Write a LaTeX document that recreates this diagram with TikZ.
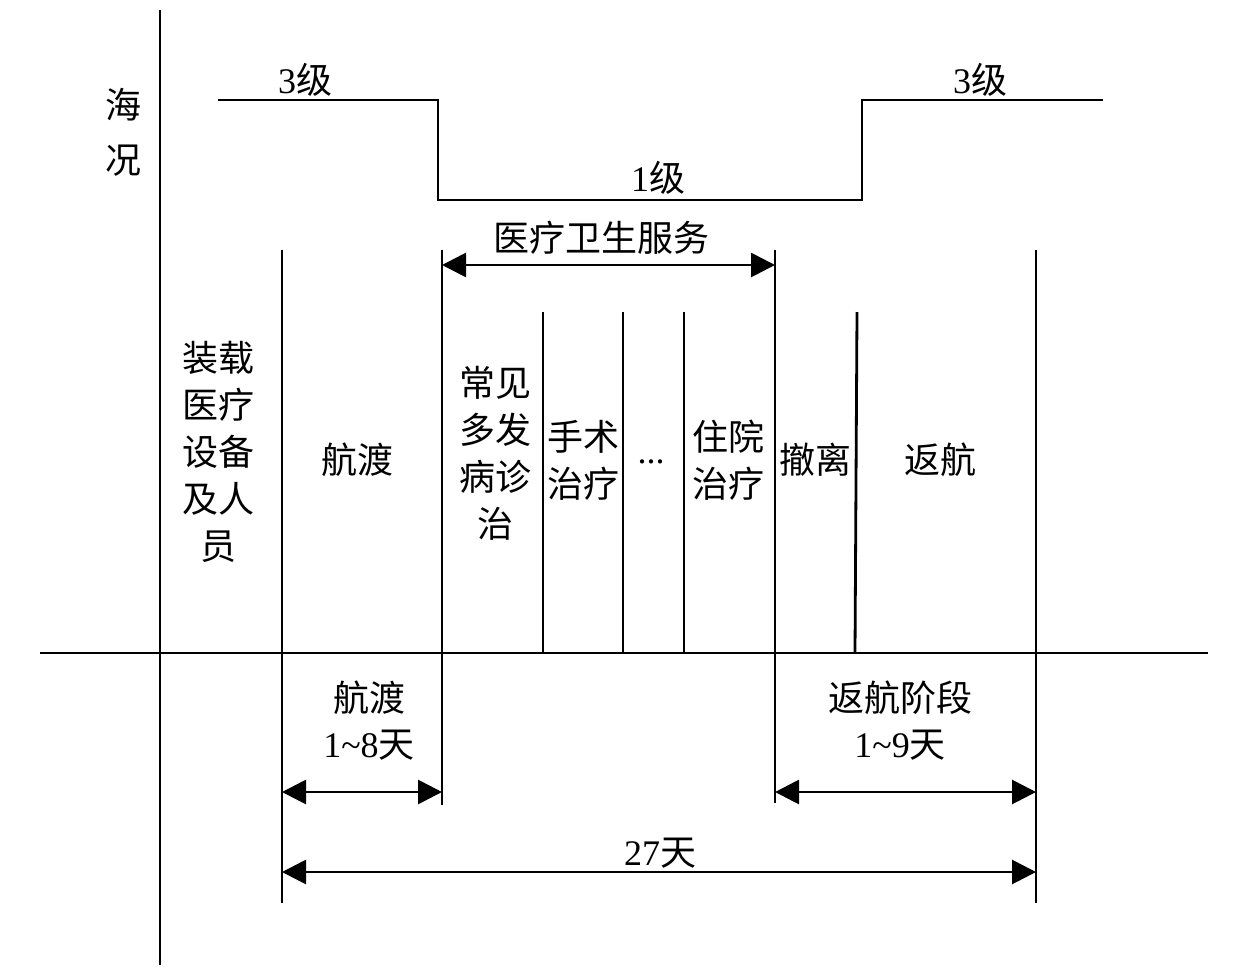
\documentclass[tikz,border=0pt]{standalone}
\usepackage{fontspec}
\setmainfont{Noto Sans CJK SC}
\newfontfamily\lat{Liberation Serif}
\usetikzlibrary{arrows.meta}
\begin{document}
\begin{tikzpicture}[x=1pt,y=-1pt,
  ln/.style={line width=2.8pt},
  dim/.style={line width=2.8pt,{Triangle[length=24pt,width=24pt]}-{Triangle[length=24pt,width=24pt]}},
  lbl/.style={font=\fontsize{36}{47}\selectfont,inner sep=0pt,align=center},
  lat/.style={font=\fontsize{36}{47}\selectfont\lat,inner sep=0pt,align=center}]
\useasboundingbox (0,0) rectangle (1260,972);
% axes
\draw[ln] (160,10) -- (160,965);
\draw[ln] (40,653) -- (1208,653);
\node[lbl,font=\fontsize{36}{55}\selectfont] (hk) at (123,132) {海\\况};
% sea state
\draw[ln] (218,100) -- (438,100) -- (438,200) -- (862,200) -- (862,100) -- (1103,100);
\node[lat] (s1) at (305,80) {3{\fontspec{Noto Sans CJK SC}级}};
\node[lat] (s2) at (658,178) {1{\fontspec{Noto Sans CJK SC}级}};
\node[lat] (s3) at (980,80) {3{\fontspec{Noto Sans CJK SC}级}};
% long vertical lines
\coordinate (a1) at (282,250); \coordinate (a2) at (282,903);
\coordinate (b1) at (442,250); \coordinate (b2) at (442,805);
\coordinate (c1) at (775,250); \coordinate (c2) at (775,803);
\coordinate (d1) at (1036,250); \coordinate (d2) at (1036,903);
\draw[ln] (a1) -- (a2);
\draw[ln] (b1) -- (b2);
\draw[ln] (c1) -- (c2);
\draw[ln] (d1) -- (d2);
% short vertical lines
\draw[ln] (543,312) -- (543,653);
\draw[ln] (623,312) -- (623,653);
\draw[ln] (684,312) -- (684,653);
\draw[ln] (857,312) -- (855,653);
% top service arrow
\node[lbl] (svc) at (601,238) {医疗卫生服务};
\coordinate (t1) at (442,265); \coordinate (t2) at (775,265);
\draw[dim] (t1) -- (t2);
% column texts
\node[lbl] (load) at (218,452) {装载\\医疗\\设备\\及人\\员};
\node[lbl] (hd) at (357,460) {航渡};
\node[lbl] (cj) at (495,453) {常见\\多发\\病诊\\治};
\node[lbl] (ss) at (583,460) {手术\\治疗};
\node[lat] (dots) at (651,462) {...};
\node[lbl] (zy) at (728,460) {住院\\治疗};
\node[lbl] (cl) at (815,460) {撤离};
\node[lbl] (fh) at (940,460) {返航};
% bottom dimensions
\node[lbl] (hd2) at (369,698) {航渡};
\node[lat] (hd3) at (369,745) {1\textasciitilde 8{\fontspec{Noto Sans CJK SC}天}};
\node[lbl] (fh2) at (900,698) {返航阶段};
\node[lat] (fh3) at (900,745) {1\textasciitilde 9{\fontspec{Noto Sans CJK SC}天}};
\node[lat] (tot) at (660,853) {27{\fontspec{Noto Sans CJK SC}天}};
\coordinate (p1) at (282,792); \coordinate (p2) at (442,792);
\coordinate (q1) at (775,792); \coordinate (q2) at (1036,792);
\coordinate (r1) at (282,872); \coordinate (r2) at (1036,872);
\draw[dim] (p1) -- (p2);
\draw[dim] (q1) -- (q2);
\draw[dim] (r1) -- (r2);
\end{tikzpicture}
\end{document}
